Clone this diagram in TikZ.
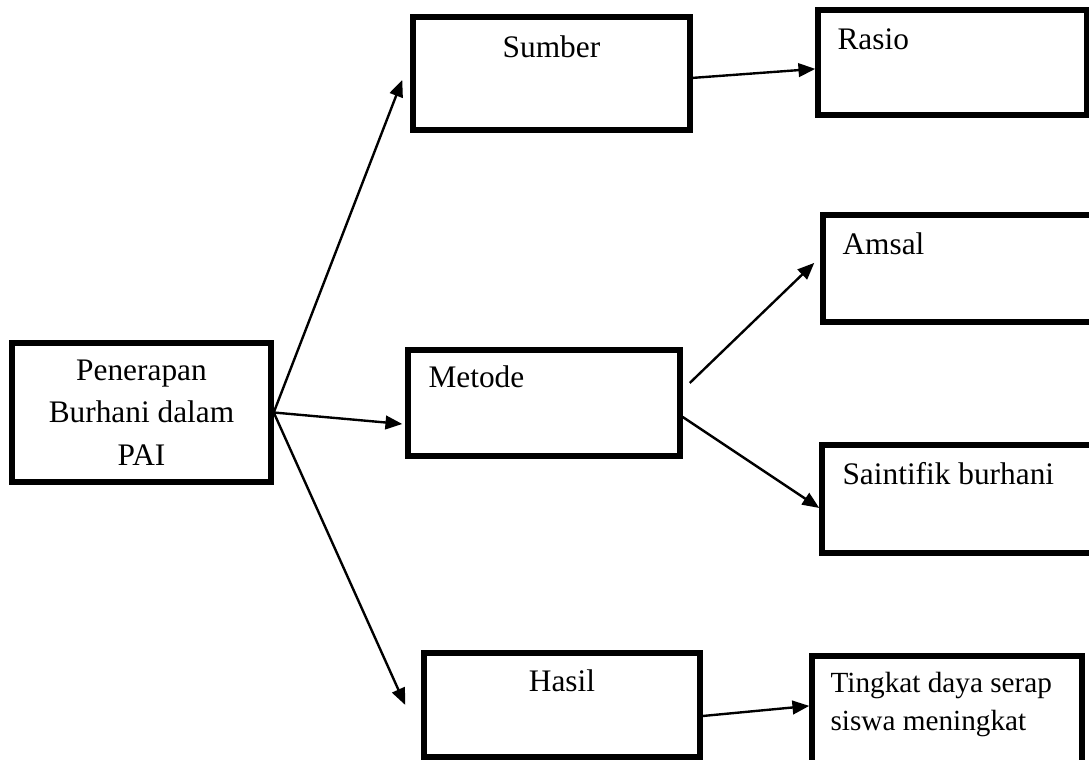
\documentclass[tikz,border=0pt]{standalone}
\usepackage{fontspec}
\setmainfont{Liberation Serif}
\usetikzlibrary{arrows.meta}
\begin{document}
\begin{tikzpicture}[>={Triangle[length=0.42cm,width=0.34cm]},x=1cm,y=1cm,
		kotak/.style={draw,line width=3.9pt,inner sep=0pt},
		panah/.style={->,line width=1.7pt},
		teks/.style={anchor=base west,inner sep=0pt,font=\fontsize{22.3}{30}\selectfont}]
	\useasboundingbox (0,0) rectangle (27.225,19);
	\clip (0,0) rectangle (27.225,19);
	% kotak utama
	\node[kotak,minimum width=6.475cm,minimum height=3.475cm,align=center,
		font=\fontsize{22.3}{30.2}\selectfont] (pen) at (3.5375,8.6875) {Penerapan\\Burhani dalam\\PAI};
	% kolom tengah
	\node[kotak,minimum width=6.925cm,minimum height=2.825cm] (sumber) at (13.7875,17.1625) {};
	\node[kotak,minimum width=6.8cm,minimum height=2.65cm] (metode) at (13.6,8.925) {};
	\node[kotak,minimum width=6.9cm,minimum height=2.6cm] (hasil) at (14.05,1.375) {};
	% kolom kanan
	\node[kotak,minimum width=6.725cm,minimum height=2.625cm] (rasio) at (23.8125,17.4375) {};
	\node[kotak,minimum width=6.925cm,minimum height=2.675cm] (amsal) at (24.0375,12.2875) {};
	\node[kotak,minimum width=6.95cm,minimum height=2.7cm] (saintifik) at (24.025,6.525) {};
	\node[kotak,minimum width=6.75cm,minimum height=2.975cm] (tingkat) at (23.675,1.1125) {};
	% tulisan
	\node[teks,anchor=base] (tsumber) at ([yshift=-1.075cm]sumber.north) {Sumber};
	\node[teks] (tmetode) at ([shift={(0.575,-1)}]metode.north west) {Metode};
	\node[teks,anchor=base] (thasil) at ([yshift=-1.025cm]hasil.north) {Hasil};
	\node[teks] (trasio) at ([shift={(0.55,-1.05)}]rasio.north west) {Rasio};
	\node[teks] (tamsal) at ([shift={(0.55,-1.05)}]amsal.north west) {Amsal};
	\node[teks] (tsaintifik) at ([shift={(0.575,-1.05)}]saintifik.north west) {Saintifik burhani};
	\node[teks,align=left,font=\fontsize{20.8}{27}\selectfont] (ttingkat) at ([shift={(0.525,-1.925)}]tingkat.north west) {Tingkat daya serap\\siswa meningkat};
	% panah
	\draw[panah] (pen.east) -- ([shift={(-0.2,-0.16)}]sumber.west);
	\draw[panah] (pen.east) -- ([shift={(-0.075,-0.525)}]metode.west);
	\draw[panah] (pen.east) -- ([xshift=-0.4cm]hasil.west);
	\draw[panah] ([yshift=-0.11cm]sumber.east) -- ([yshift=-0.16cm]rasio.west);
	\draw[panah] ([shift={(0.175,0.5)}]metode.east) -- ([shift={(-0.15,0.14)}]amsal.west);
	\draw[panah] ([yshift=-0.35cm]metode.east) -- ([yshift=-0.225cm]saintifik.west);
	\draw[panah] ([yshift=-0.275cm]hasil.east) -- ([yshift=0.24cm]tingkat.west);
\end{tikzpicture}
\end{document}
